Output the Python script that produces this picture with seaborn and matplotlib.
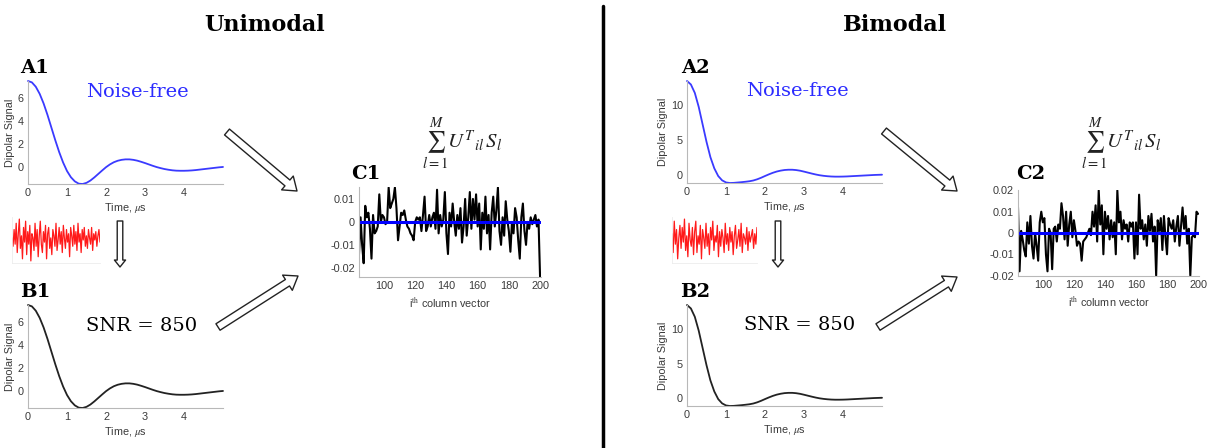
import numpy as np
import pandas as pd
import matplotlib
matplotlib.use("Agg")
import matplotlib.pyplot as plt
import seaborn as sns
from matplotlib.patches import FancyArrowPatch, ArrowStyle
from matplotlib.lines import Line2D

# ---------------------------------------------------------------- data
time_us = np.linspace(0.0, 5.0, 51)
time_ticks = [0, 1, 2, 3, 4]

# dipolar signal, unimodal distance distribution
signal_uni = [7.50, 7.38, 7.00, 6.38, 5.55, 4.55, 3.45, 2.35, 1.32, 0.42,
              -0.32, -0.86, -1.22, -1.42, -1.45, -1.35, -1.15, -0.88, -0.58, -0.28,
              0.01, 0.25, 0.44, 0.57, 0.65, 0.69, 0.69, 0.65, 0.58, 0.48,
              0.37, 0.25, 0.13, 0.02, -0.07, -0.15, -0.21, -0.26, -0.29, -0.30,
              -0.30, -0.29, -0.27, -0.24, -0.20, -0.16, -0.12, -0.08, -0.04, 0.00,
              0.03]

# dipolar signal, bimodal distance distribution
signal_bi = [13.50, 13.00, 11.80, 9.80, 7.30, 4.80, 2.60, 1.00, -0.10, -0.72,
             -1.02, -1.10, -1.08, -1.03, -0.98, -0.92, -0.85, -0.74, -0.57, -0.35,
             -0.10, 0.14, 0.36, 0.54, 0.67, 0.76, 0.80, 0.80, 0.75, 0.66,
             0.53, 0.39, 0.25, 0.12, 0.01, -0.07, -0.13, -0.17, -0.19, -0.19,
             -0.18, -0.16, -0.13, -0.10, -0.07, -0.04, -0.01, 0.02, 0.05, 0.07,
             0.09]

# additive noise traces
noise_uni = [0.1, -0.3, 0.5, -0.2, 0.8, -0.6, 0.3, 1.0, -0.4, 0.2, -0.9, 0.6,
             -0.1, 0.9, -0.7, 0.4, -0.2, 0.7, -1.0, 0.3, 0.1, -0.5, 0.8, -0.3,
             0.5, -0.8, 0.2, 0.9, -0.2, -0.6, 0.4, -0.1, 0.7, -0.9, 0.3, 0.6,
             -0.4, 0.1, -0.7, 0.5, 0.2, -0.3, 0.8, -0.5, 0.0, 0.6, -0.2, 0.4,
             -0.6, 0.7, 0.1, -0.4, 0.5, -0.1, 0.3, -0.8, 0.6, 0.2, -0.3, 0.7,
             -0.2, 0.4, -0.5, 0.8, -0.1, 0.3, -0.6, 0.5, 0.0, 0.6, -0.3, 0.2,
             -0.4, 0.5, 0.1, -0.2, 0.6, -0.5, 0.3, 0.0, 0.4, -0.3, 0.2, 0.5, -0.1]
noise_bi = [0.3, -0.6, 0.9, -0.2, 0.5, -0.9, 0.1, 0.7, -0.4, 0.6, -0.1, 1.0,
            -0.5, 0.2, -0.8, 0.8, 0.0, -0.3, 0.6, -0.7, 0.4, 0.9, -0.6, 0.2,
            -0.2, 0.7, -0.9, 0.5, 0.1, -0.4, 0.8, -0.3, 0.3, -0.7, 0.6, 0.0,
            0.9, -0.5, 0.2, -0.1, 0.7, -0.8, 0.4, -0.3, 0.5, 0.1, -0.6, 0.8,
            -0.2, 0.3, -0.5, 0.6, -0.1, 0.4, -0.7, 0.2, 0.7, -0.4, 0.0, 0.5,
            -0.3, 0.8, -0.6, 0.3, 0.1, -0.2, 0.6, -0.5, 0.4, -0.1, 0.2, 0.5,
            -0.4, 0.3, -0.2, 0.6]

# projections onto the i-th column vectors (i = 84 ... 200)
column_index = np.arange(84, 201)
proj_uni = [-0.014, 0.002, -0.010, -0.018, 0.007, 0.002, 0.004, -0.003, -0.016, 0.003,
            -0.005, -0.004, -0.002, 0.012, 0.000, 0.003, 0.002, -0.001, 0.000, 0.015,
            0.006, 0.008, 0.010, 0.015, 0.006, -0.008, -0.002, 0.004, 0.003, 0.005,
            0.001, -0.002, -0.003, -0.005, -0.006, -0.008, 0.000, 0.002, 0.001, 0.002,
            -0.004, 0.003, 0.011, -0.004, -0.002, 0.003, -0.002, 0.002, 0.004, -0.003,
            0.014, -0.005, 0.003, -0.002, 0.001, 0.013, -0.005, -0.014, 0.004, -0.002,
            0.008, 0.000, -0.006, 0.003, -0.003, 0.006, -0.009, -0.002, 0.010, -0.006,
            0.002, 0.013, -0.003, 0.010, 0.001, 0.012, -0.002, 0.008, -0.012, 0.004,
            -0.003, 0.011, -0.005, 0.003, -0.012, 0.004, 0.011, -0.002, 0.005, 0.015,
            -0.004, -0.010, 0.002, -0.006, 0.009, 0.001, -0.004, -0.013, 0.000, -0.005,
            0.006, 0.002, -0.008, -0.016, 0.002, 0.008, -0.004, -0.010, 0.000, -0.003,
            0.002, -0.001, 0.001, 0.003, -0.002, 0.001, -0.024]
proj_bi = [0.012, -0.018, 0.001, -0.003, -0.008, -0.011, 0.005, -0.005, 0.008, -0.006,
           -0.012, 0.000, -0.006, -0.013, 0.005, 0.010, 0.005, 0.007, -0.010, -0.018,
           0.002, 0.000, -0.017, 0.002, 0.003, -0.004, 0.004, 0.002, 0.014, 0.008,
           -0.003, 0.010, -0.006, 0.004, 0.010, -0.002, 0.006, 0.001, -0.006, -0.004,
           -0.005, -0.013, -0.004, -0.003, -0.002, 0.000, 0.002, -0.001, 0.010, 0.003,
           0.013, -0.004, 0.020, 0.004, 0.013, -0.010, 0.010, 0.002, 0.008, -0.003,
           0.006, -0.002, 0.005, -0.010, 0.020, 0.005, 0.010, -0.003, 0.006, 0.002,
           0.004, -0.004, 0.005, 0.003, 0.005, -0.012, 0.005, -0.010, 0.018, 0.002,
           0.006, -0.003, 0.004, -0.006, 0.008, 0.001, 0.009, -0.004, 0.003, -0.020,
           0.006, 0.001, 0.007, -0.008, 0.008, -0.002, -0.010, 0.007, 0.004, 0.002,
           0.006, -0.004, 0.003, 0.008, -0.006, 0.003, 0.012, 0.002, 0.008, -0.005,
           0.002, -0.020, -0.002, -0.001, -0.002, 0.010, 0.009]
proj_noise_free = [0.0] * len(column_index)
column_ticks = [100, 120, 140, 160, 180, 200]

# ---------------------------------------------------------------- style
sns.set_style("white")
plt.rcParams["font.family"] = ["Liberation Sans", "DejaVu Sans"]
plt.rcParams["mathtext.fontset"] = "stix"
plt.rcParams["text.color"] = "black"

W, H = 1207, 448
fig = plt.figure(figsize=(W / 100, H / 100), dpi=100)
fig.patch.set_facecolor("white")

AX_GREY = "#b8b8b8"
LABEL_GREY = "#3a3a3a"
SERIF = ["DejaVu Serif"]


def px_axes(left, top, right, bottom):
    return fig.add_axes([left / W, 1 - bottom / H, (right - left) / W, (bottom - top) / H])


def style_axes(ax):
    for side in ("top", "right"):
        ax.spines[side].set_visible(False)
    for side in ("left", "bottom"):
        ax.spines[side].set_color(AX_GREY)
        ax.spines[side].set_linewidth(0.8)
    ax.tick_params(direction="in", length=2.5, width=0.6, color=AX_GREY,
                   labelsize=7.8, labelcolor=LABEL_GREY, pad=3)
    ax.set_facecolor("none")


def signal_panel(box, values, color, yticks):
    ax = px_axes(*box)
    df = pd.DataFrame({"t": time_us, "v": values})
    sns.lineplot(data=df, x="t", y="v", ax=ax, color=color, lw=1.3, clip_on=False)
    ax.set_xlim(0, 5)
    ax.set_ylim(min(values), max(values))
    ax.set_xticks(time_ticks, [str(t) for t in time_ticks])
    ax.set_yticks(yticks, [str(v) for v in yticks])
    ax.set_xlabel(r"Time, $\mu$s", fontsize=7.8, color=LABEL_GREY, labelpad=2)
    ax.set_ylabel("Dipolar Signal", fontsize=7.8, color=LABEL_GREY, labelpad=2)
    style_axes(ax)
    return ax


def noise_panel(box, values):
    ax = px_axes(*box)
    sns.lineplot(x=np.arange(len(values)), y=values, ax=ax, color="#ff1a1a", lw=0.9)
    ax.set_xlim(0, len(values) - 1)
    ax.set_ylim(-1.1, 1.1)
    ax.set_xticks([])
    ax.set_yticks([])
    ax.set_xlabel("")
    ax.set_ylabel("")
    for side in ("top", "right"):
        ax.spines[side].set_visible(False)
    for side in ("left", "bottom"):
        ax.spines[side].set_color("#ececec")
        ax.spines[side].set_linewidth(0.6)
    ax.set_facecolor("none")


def projection_panel(box, values, ylim, yticks, yticklabels):
    ax = px_axes(*box)
    sns.lineplot(x=column_index, y=values, ax=ax, color="black", lw=1.5)
    sns.lineplot(x=column_index, y=proj_noise_free, ax=ax, color="#0000ff", lw=2.2)
    ax.set_xlim(84, 200.6)
    ax.set_ylim(*ylim)
    ax.set_xticks(column_ticks, [str(c) for c in column_ticks])
    ax.set_yticks(yticks, yticklabels)
    ax.set_xlabel(r"i$^{\mathrm{th}}$ column vector", fontsize=7.8, color=LABEL_GREY, labelpad=3)
    ax.set_ylabel("")
    style_axes(ax)
    return ax


def fig_text(x, y, s, **kw):
    fig.text(x / W, 1 - y / H, s, ha="center", va="center", **kw)


def block_arrow(x0, y0, x1, y1, tail, head_w, head_l):
    style = ArrowStyle.Simple(head_length=head_l, head_width=head_w, tail_width=tail)
    arr = FancyArrowPatch((x0 / 100, (H - y0) / 100), (x1 / 100, (H - y1) / 100),
                          transform=fig.dpi_scale_trans, arrowstyle=style,
                          mutation_scale=1, shrinkA=0, shrinkB=0,
                          facecolor="white", edgecolor="#222222", lw=1.0)
    fig.add_artist(arr)


# ---------------------------------------------------------------- panels
signal_panel((28, 81, 223, 184), signal_uni, "#3a3aff", [0, 2, 4, 6])
signal_panel((28, 305, 223, 408), signal_uni, "#222222", [0, 2, 4, 6])
signal_panel((687, 81, 882, 183), signal_bi, "#3a3aff", [0, 5, 10])
signal_panel((687, 305, 882, 406), signal_bi, "#222222", [0, 5, 10])

noise_panel((12, 217, 100, 263), noise_uni)
noise_panel((672, 217, 757, 263), noise_bi)

projection_panel((359, 187, 541, 277), proj_uni, (min(proj_uni), 0.0152),
                 [-0.02, -0.01, 0.0, 0.01], ["-0.02", "-0.01", "0", "0.01"])
projection_panel((1018, 190, 1199, 276), proj_bi, (-0.0202, 0.0202),
                 [-0.02, -0.01, 0.0, 0.01, 0.02], ["-0.02", "-0.01", "0", "0.01", "0.02"])

# ---------------------------------------------------------------- annotations
fig_text(265, 25, "Unimodal", fontsize=16, fontweight="bold", family=SERIF, color="black")
fig_text(895, 25, "Bimodal", fontsize=16, fontweight="bold", family=SERIF, color="black")

for label, x, y in [("A1", 35, 68), ("B1", 35, 292), ("C1", 366, 174),
                    ("A2", 695, 68), ("B2", 695, 292), ("C2", 1031, 174)]:
    fig_text(x, y, label, fontsize=14, fontweight="bold", family=SERIF, color="black")

fig_text(137, 92, "Noise-free", fontsize=14, color="#2b2bff", family=SERIF)
fig_text(797, 91, "Noise-free", fontsize=14, color="#2b2bff", family=SERIF)
fig_text(142, 326, "SNR = 850", fontsize=14, color="black", family=SERIF)
fig_text(800, 325, "SNR = 850", fontsize=14, color="black", family=SERIF)

formula = r"$\sum_{l=1}^{M} U^{T}{}_{il}\,S_l$"
fig_text(462, 144, formula, fontsize=15, color="#222222")
fig_text(1121, 144, formula, fontsize=15, color="#222222")

# flow arrows
block_arrow(227, 132, 297, 191, 5.5, 13, 9)
block_arrow(218, 327, 298, 276, 5.5, 13, 9)
block_arrow(884, 131, 957, 191, 5.5, 13, 9)
block_arrow(878, 327, 957, 277, 5.5, 13, 9)
block_arrow(120, 221, 120, 267, 4.0, 8, 5)
block_arrow(778, 221, 778, 267, 4.0, 8, 5)

# divider between the two halves
fig.add_artist(Line2D([603 / W, 603 / W], [0, 1 - 6 / H], transform=fig.transFigure,
                      color="black", lw=2.5))

fig.savefig("out.png", dpi=100, facecolor="white")
